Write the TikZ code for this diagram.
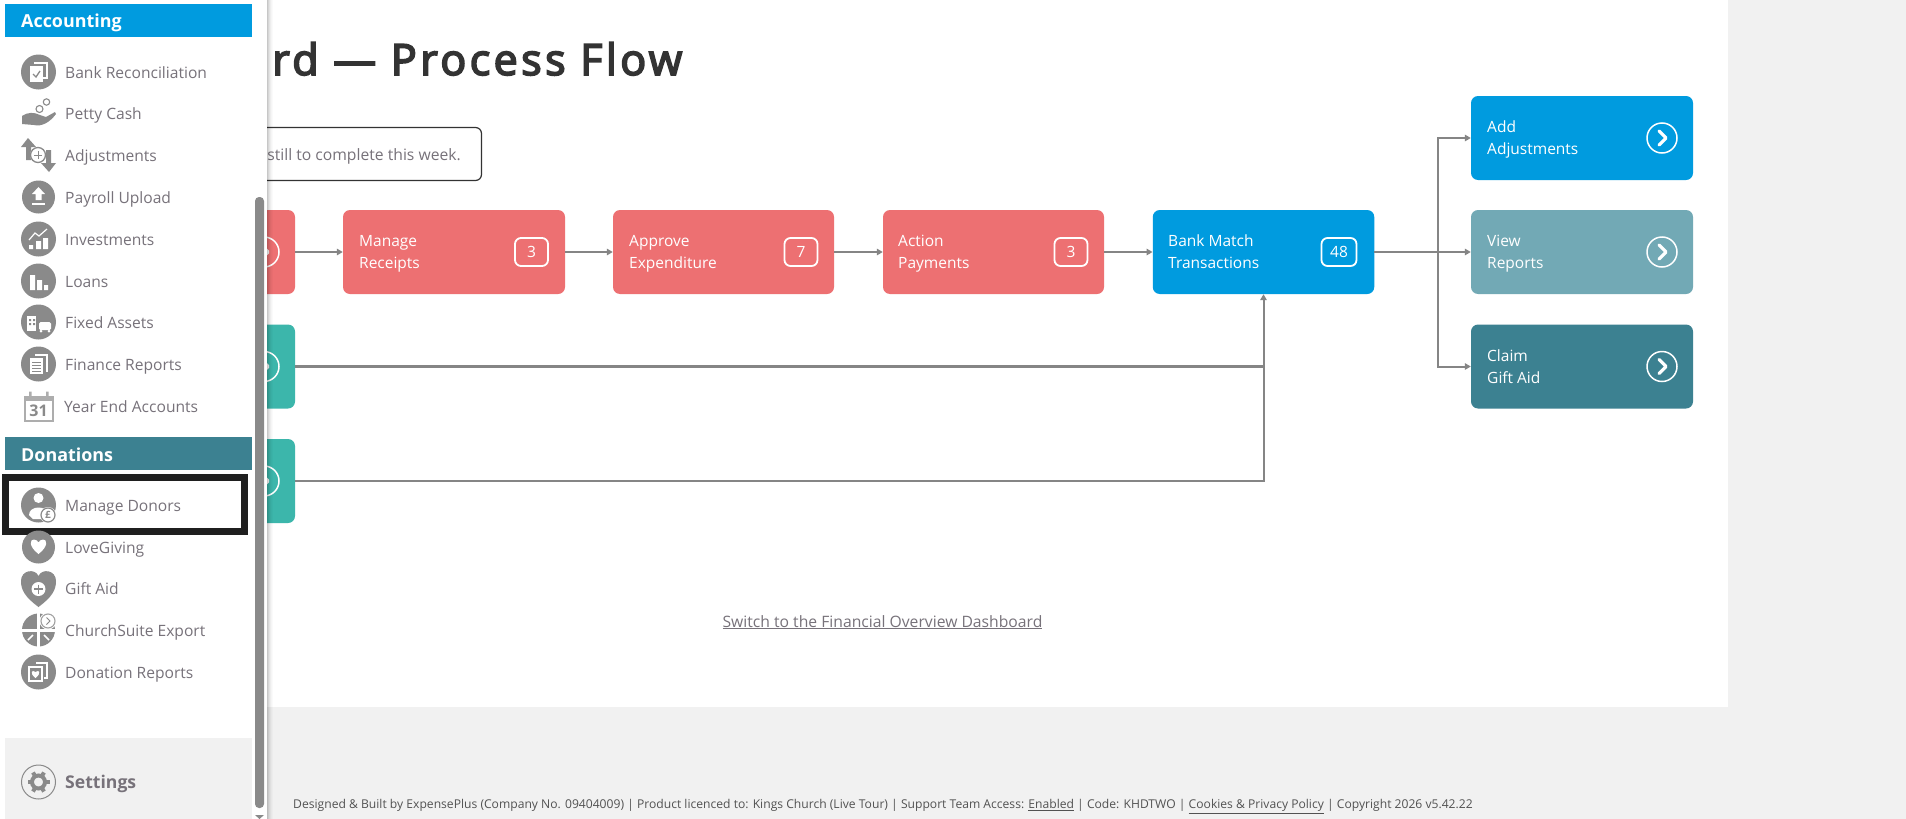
\documentclass[tikz,border=0pt]{standalone}
\usepackage{fontspec}
\setmainfont{Open Sans}
\newfontfamily\titlefont[FakeBold=4,LetterSpace=8]{Open Sans}
\usetikzlibrary{arrows.meta}
\definecolor{pagebg}{HTML}{F1F1F1}
\definecolor{menutxt}{HTML}{77727A}
\definecolor{icongray}{HTML}{8A8A8A}
\definecolor{cred}{HTML}{ED7072}
\definecolor{cteal}{HTML}{3CB6AB}
\definecolor{cblue}{HTML}{009BDF}
\definecolor{cview}{HTML}{72A9B5}
\definecolor{cclaim}{HTML}{3C8191}
\definecolor{conn}{HTML}{858585}
\definecolor{titlec}{HTML}{333333}
\newcommand{\twolines}[2]{#1\strut\\#2\strut}
\tikzset{
  flowbox/.style={rounded corners=7pt,minimum width=#1,minimum height=84pt,inner sep=0pt,draw=none},
  boxlabel/.style={anchor=west,text=white,font=\fontsize{15.5}{22}\selectfont,align=left,inner sep=0pt},
  badge/.style={draw=white,line width=1.8pt,rounded corners=6pt,minimum width=33pt,minimum height=28pt,inner sep=0pt,text=white,font=\fontsize{15.5}{18}\selectfont},
  flowline/.style={draw=conn,line width=2pt,-{Triangle[length=6pt,width=6.5pt]}},
  thickline/.style={draw=conn,line width=3pt},
  sechead/.style={anchor=base west,text=white,font=\fontsize{17.9}{20}\selectfont\bfseries,inner sep=0pt},
  menuitem/.style={anchor=base west,text=menutxt,font=\fontsize{15.6}{18}\selectfont,inner sep=0pt},
  ic/.style={fill=icongray,draw=none},
  icw/.style={fill=white,draw=none},
  icl/.style={draw=white,line width=1.2pt},
  icg/.style={draw=icongray,line width=1.3pt},
}
\newcommand{\gocircle}[2]{%
  \draw[white,line width=1.5pt] (#1,#2) circle[radius=15];
  \draw[white,line width=3.2pt,line cap=round,line join=round] (#1-3,#2-7)--(#1+4,#2)--(#1-3,#2+7);
}
\begin{document}
\begin{tikzpicture}[x=1pt,y=-1pt]
\useasboundingbox (0,0) rectangle (1906,819);
\fill[pagebg] (0,0) rectangle (1906,819);
\fill[white] (0,0) rectangle (1728,707);

% title
\node[anchor=base west,inner sep=0pt,text=titlec,font={\fontsize{43}{50}\selectfont\titlefont}] (title) at (272,75) {rd — Process Flow};

% callout
\draw[draw=titlec,line width=1.2pt,rounded corners=6pt] (240,127.5) rectangle (481.5,180.5);
\node[anchor=base east,inner sep=0pt,text=menutxt,font=\fontsize{15.7}{18}\selectfont] (note) at (461,160) {still to complete this week.};

% flow boxes
\node[flowbox=45pt,fill=cred] (first) at (272.5,252) {};
\node[flowbox=222pt,fill=cred] (receipts) at (454,252) {};
\node[flowbox=221pt,fill=cred] (approve) at (723.5,252) {};
\node[flowbox=221pt,fill=cred] (payments) at (993.5,252) {};
\node[flowbox=221.5pt,fill=cblue] (bank) at (1263.5,252) {};
\node[flowbox=45pt,fill=cteal] (tealA) at (272.5,366.5) {};
\node[flowbox=45pt,fill=cteal] (tealB) at (272.5,481) {};
\node[flowbox=222pt,fill=cblue] (add) at (1582,138) {};
\node[flowbox=222pt,fill=cview] (view) at (1582,252) {};
\node[flowbox=222pt,fill=cclaim] (claim) at (1582,366.5) {};

\node[boxlabel] (l1) at (359,253.2) {\twolines{Manage}{Receipts}};
\node[boxlabel] (l2) at (629,253.2) {\twolines{Approve}{Expenditure}};
\node[boxlabel] (l3) at (898,253.2) {\twolines{Action}{Payments}};
\node[boxlabel] (l4) at (1168,253.2) {\twolines{Bank Match}{Transactions}};
\node[boxlabel] (l5) at (1487,139.2) {\twolines{Add}{Adjustments}};
\node[boxlabel] (l6) at (1487,253.2) {\twolines{View}{Reports}};
\node[boxlabel] (l7) at (1487,368) {\twolines{Claim}{Gift Aid}};

\node[badge] (b1) at (531.5,252) {3};
\node[badge] (b2) at (801,252) {7};
\node[badge] (b3) at (1071,252) {3};
\node[badge,minimum width=35pt] (b4) at (1339,252) {48};

\gocircle{1662}{138}
\gocircle{1662}{252}
\gocircle{1662}{366.5}
\gocircle{264}{252}
\gocircle{264}{366.5}
\gocircle{264}{481}

% connectors
\draw[flowline] (first.east) -- (receipts.west);
\draw[flowline] (receipts.east) -- (approve.west);
\draw[flowline] (approve.east) -- (payments.west);
\draw[flowline] (payments.east) -- (bank.west);
\draw[thickline] (tealA.east) -- (bank.south |- tealA.east);
\draw[flowline] (tealB.east) -| (bank.south);
\coordinate (split) at (1438,252);
\draw[flowline] (bank.east) -- (view.west);
\draw[flowline] (split) |- (add.west);
\draw[flowline] (split) |- (claim.west);

% link
\node[anchor=base,text=menutxt,inner sep=0pt,font=\fontsize{15.7}{18}\selectfont] (switch) at (882.5,627) {\underline{Switch to the Financial Overview Dashboard}};

% footer
\node[anchor=base west,inner sep=0pt,text=titlec!85!white,font=\fontsize{12.12}{14}\selectfont] (footer) at (293,808.5) {Designed \& Built by ExpensePlus (Company No. 09404009) | Product licenced to: Kings Church (Live Tour) | Support Team Access: \underline{Enabled} | Code: KHDTWO | \underline{Cookies \& Privacy Policy} | Copyright 2026 v5.42.22};

% sidebar
\foreach \i/\o in {0/0.22,1/0.16,2/0.11,3/0.07,4/0.04,5/0.02}{
  \fill[black,opacity=\o] (267+\i,0) rectangle (268+\i,819);
}
\fill[white] (0,0) rectangle (267,819);
\fill[pagebg] (5,738) rectangle (252,819);
\fill[cblue] (5,4) rectangle (252,37);
\fill[cclaim] (5,437) rectangle (252,470);
\node[sechead] (accounting) at (21,27.2) {Accounting};
\node[sechead] (donations) at (21,461) {Donations};
% scrollbar
\fill[icongray,rounded corners=4pt] (255,197) rectangle (264,808);
\fill[icongray] (255,815) -- (264,815) -- (259.5,819) -- cycle;

% menu labels
\node[menuitem] at (65,78) {Bank Reconciliation};
\node[menuitem] at (65,119) {Petty Cash};
\node[menuitem] at (65,161.7) {Adjustments};
\node[menuitem] at (65,203) {Payroll Upload};
\node[menuitem] at (65,245) {Investments};
\node[menuitem] at (65,287) {Loans};
\node[menuitem] at (65,328.7) {Fixed Assets};
\node[menuitem] at (65,370) {Finance Reports};
\node[menuitem] at (64,412) {Year End Accounts};
\node[menuitem] at (65,511) {Manage Donors};
\node[menuitem] at (65,553) {LoveGiving};
\node[menuitem] at (65,594.7) {Gift Aid};
\node[menuitem] at (65,636) {ChurchSuite Export};
\node[menuitem] at (65,678) {Donation Reports};
\node[menuitem,font=\fontsize{17.6}{20}\selectfont\bfseries] at (65,788.5) {Settings};

% highlight frame
\draw[draw=black!88,line width=7pt] (5,477.5) rectangle (244.5,531.5);

% icons ---------------------------------------------------------
% bank reconciliation
\fill[ic] (38.5,72) circle[radius=17.5];
\draw[icl] (34,63) -- (47,63) -- (47,78) -- (43,78);
\fill[icw] (30,66) rectangle (43,82);
\draw[icg] (33,74) -- (36,77) -- (40,71);
% petty cash
\draw[icongray,line width=1.1pt] (46.5,102) circle[radius=3.2];
\draw[icongray,line width=1.1pt] (39.5,109) circle[radius=3.5];
\fill[ic] (22,116) .. controls (28,112) and (34,112) .. (40,115) -- (46,117) -- (55,112) -- (56,114) .. controls (50,122) and (42,127) .. (34,125) -- (22,124) -- cycle;
% adjustments
\fill[ic] (28,138) -- (36,147) -- (31,147) -- (31,160) -- (26,160) -- (26,147) -- (21,147) -- cycle;
\fill[ic] (49,172) -- (41,163) -- (46,163) -- (46,150) -- (51,150) -- (51,163) -- (56,163) -- cycle;
\fill[white] (38,155) circle[radius=8];
\draw[icongray,line width=1.3pt] (38,155) circle[radius=7.5];
\draw[icongray,line width=1pt] (34,155) -- (42,155) (38,151) -- (38,159);
% payroll upload
\fill[ic] (38.5,197) circle[radius=16.5];
\fill[icw] (38.5,187) -- (45,194) -- (41.5,194) -- (41.5,200) -- (35.5,200) -- (35.5,194) -- (32,194) -- cycle;
\fill[icw] (32,203) rectangle (45,205);
% investments
\fill[ic] (38.5,239) circle[radius=17.5];
\fill[icw] (29,245) rectangle (33,249) (36,241) rectangle (41,249) (43,238) rectangle (48,249);
\draw[icl] (29,240) -- (35,233) -- (39,236) -- (47,229);
% loans
\fill[ic] (38.5,281) circle[radius=17.5];
\fill[icw] (30,275) rectangle (35,290) (37,280) rectangle (42,290) (44,285) rectangle (48,290);
% fixed assets
\fill[ic] (38.5,322) circle[radius=17.5];
\fill[icw] (27,316) rectangle (36,331);
\fill[ic] (29,319) rectangle (31,321) (33,319) rectangle (35,321) (29,323) rectangle (31,325) (33,323) rectangle (35,325);
\fill[icw,rounded corners=1.5pt] (39,322) rectangle (51,330);
\fill[icw] (41,331) circle[radius=1.5] (49,331) circle[radius=1.5];
% finance reports
\fill[ic] (38.5,364) circle[radius=17.5];
\draw[icl] (35,355) -- (47,355) -- (47,372);
\fill[icw] (30,358) rectangle (43,374);
\draw[icongray,line width=0.9pt] (32,362) -- (41,362) (32,365) -- (41,365) (32,368) -- (41,368) (32,371) -- (41,371);
% calendar
\draw[draw=icongray!70,line width=2pt] (24.5,397) rectangle (52.5,421);
\fill[icongray!70] (24,396) rectangle (53,401);
\fill[icongray!70] (29,391.5) rectangle (31.5,398) (46,391.5) rectangle (48.5,398);
\node[inner sep=0pt,text=icongray,font=\fontsize{16}{16}\selectfont\bfseries] (cal) at (38.5,411) {31};
% manage donors
\fill[ic] (38.5,505) circle[radius=17.5];
\fill[icw] (38.5,498) circle[radius=5];
\fill[icw] (29,515) .. controls (29,505) and (48,505) .. (48,515) -- (42,519) -- (33,519) -- cycle;
\fill[white] (48,515) circle[radius=8];
\draw[icongray,line width=1.2pt] (48,515) circle[radius=7];
\node[inner sep=0pt,text=icongray,font=\fontsize{10}{10}\selectfont\bfseries] (pound) at (48,515) {£};
% lovegiving
\fill[ic] (38.5,547) circle[radius=16.5];
\fill[icw] (38.5,554) .. controls (28,546) and (30,539) .. (34,539.5) .. controls (36,539.5) and (38,541) .. (38.5,542.5) .. controls (39,541) and (41,539.5) .. (43,539.5) .. controls (47,539) and (49,546) .. (38.5,554) -- cycle;
% gift aid
\fill[ic] (38.5,607) .. controls (25,597) and (21,590) .. (21,581) .. controls (21,570) and (35,568) .. (38.5,576) .. controls (42,568) and (56,570) .. (56,581) .. controls (56,590) and (52,597) .. (38.5,607) -- cycle;
\fill[icw] (38.5,589) circle[radius=7];
\draw[icongray,line width=1.1pt] (34,589) -- (43,589) (38.5,584.5) -- (38.5,593.5);
% churchsuite export
\fill[ic] (38.5,630) circle[radius=16.5];
\draw[white,line width=3pt] (38.5,613) -- (38.5,648) (21,630) -- (56,630);
\draw[white,line width=1.5pt] (28,640) -- (33,635) (49,640) -- (44,635);
\fill[white] (48,621) circle[radius=8.5];
\draw[icongray!80,line width=1.1pt] (48,621) circle[radius=7];
\draw[icongray,line width=1pt] (46.5,617.5) -- (50,621) -- (46.5,624.5);
% donation reports
\fill[ic] (38.5,672) circle[radius=17.5];
\draw[icl] (36,663) -- (47,663) -- (47,678) -- (44,678);
\draw[icl] (29,667) rectangle (42,681);
\fill[icw] (35.5,678) .. controls (29,673) and (32,669) .. (35.5,672) .. controls (39,669) and (42,673) .. (35.5,678) -- cycle;
% settings
\draw[icongray,line width=1pt] (38.5,782) circle[radius=17];
\foreach \a in {0,60,...,300}{
  \draw[icongray,line width=4pt] (38.5,782) ++(\a:7) -- ++(\a:4);
}
\draw[icongray,line width=4pt] (38.5,782) circle[radius=6.5];
\end{tikzpicture}
\end{document}
